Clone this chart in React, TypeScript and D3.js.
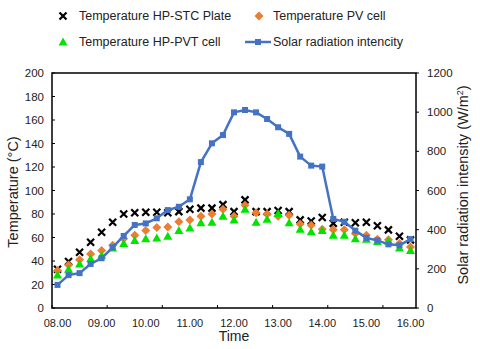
import React from 'react';
import * as d3 from 'd3';

// 15-minute readings from 08.00 to 16.00
const times = [
  '08.00', '08.15', '08.30', '08.45', '09.00', '09.15', '09.30', '09.45',
  '10.00', '10.15', '10.30', '10.45', '11.00', '11.15', '11.30', '11.45',
  '12.00', '12.15', '12.30', '12.45', '13.00', '13.15', '13.30', '13.45',
  '14.00', '14.15', '14.30', '14.45', '15.00', '15.15', '15.30', '15.45', '16.00',
];

// Temperatures (°C)
const tempSTC = [33, 39.5, 47.5, 56, 64.5, 73, 80, 81, 81.5, 81.5, 81, 82, 84, 85, 85, 88, 82, 92, 82, 82, 83, 82, 75, 74, 77, 72, 73, 72.5, 73, 70, 66.5, 61, 58];
const tempPV = [32, 36.5, 41, 46, 49, 53.5, 59, 62, 66, 68.5, 69, 73.5, 75, 78, 80, 84, 78, 87.5, 81, 80, 78, 79, 71.5, 70.5, 67, 66.5, 66.5, 63.5, 62, 58.5, 58, 55, 52];
const tempPVT = [28, 33, 37.5, 42, 45, 51, 55, 57.5, 59, 59.5, 61, 66, 68, 72.5, 73, 78, 75, 84, 73, 75.5, 80.5, 72.5, 67, 65, 66, 62, 62, 59, 58.5, 56.5, 57, 51, 49];

// Solar radiation (W/m²)
const solar = [118, 168, 178, 225, 254, 310, 368, 424, 432, 458, 500, 517, 555, 745, 841, 883, 999, 1011, 999, 965, 923, 889, 773, 727, 722, 455, 440, 395, 358, 345, 325, 320, 352];

const leftTicks = [0, 20, 40, 60, 80, 100, 120, 140, 160, 180, 200];
const rightTicks = [0, 200, 400, 600, 800, 1000, 1200];

const W = 480;
const H = 349;
const plot = { left: 52, right: 416, top: 73, bottom: 308 };
const FONT = '"Liberation Sans", Arial, sans-serif';
const TXT = '#222';

const BLUE = '#4472C4';
const ORANGE = '#ED7D31';
const GREEN = '#00E400';

const xMark = (x: number, y: number, k: string | number) => (
  <path key={k} d={`M${x - 3.5},${y - 3.5}L${x + 3.5},${y + 3.5}M${x + 3.5},${y - 3.5}L${x - 3.5},${y + 3.5}`}
    stroke="#000" strokeWidth={2.2} />
);
const diamond = (x: number, y: number, k: string | number) => (
  <path key={k} d={`M${x},${y - 4.5}L${x + 4.5},${y}L${x},${y + 4.5}L${x - 4.5},${y}Z`} fill={ORANGE} />
);
const triangle = (x: number, y: number, k: string | number) => (
  <path key={k} d={`M${x},${y - 4.5}L${x + 4.5},${y + 3.5}L${x - 4.5},${y + 3.5}Z`} fill={GREEN} />
);

export default function App() {
  const x = d3.scaleBand<string>().domain(times).range([plot.left, plot.right]);
  const cx = (t: string) => (x(t) as number) + x.bandwidth() / 2;
  const yL = d3.scaleLinear().domain([0, 200]).range([plot.bottom, plot.top]);
  const yR = d3.scaleLinear().domain([0, 1200]).range([plot.bottom, plot.top]);

  const solarLine = d3.line<number>()
    .x((_, i) => cx(times[i]))
    .y(d => yR(d));

  // tick marks every 5 categories, labels every 4 (Excel-style)
  const tickMarks = d3.range(0, times.length + 1, 5).map(i => plot.left + i * x.step());

  return (
    <svg width={W} height={H} style={{ position: 'absolute', left: 0, top: 0, fontFamily: FONT }}>
      <rect width={W} height={H} fill="#fff" />

      {/* legend */}
      <g fontSize={12.5} fill={TXT}>
        {xMark(63, 16, 'l1')}
        <text x={79} y={16} dy="0.35em">Temperature HP-STC Plate</text>
        {diamond(259, 16, 'l2')}
        <text x={273} y={16} dy="0.35em">Temperature PV cell</text>
        {triangle(63, 42, 'l3')}
        <text x={79} y={42} dy="0.35em">Temperature HP-PVT cell</text>
        <line x1={245} x2={271} y1={42} y2={42} stroke={BLUE} strokeWidth={2.5} />
        <rect x={255} y={39} width={6} height={6} fill={BLUE} />
        <text x={273} y={42} dy="0.35em">Solar radiation intencity</text>
      </g>

      {/* left axis */}
      <g fontSize={11.5} fill={TXT}>
        {leftTicks.map(t => (
          <g key={t}>
            <line x1={plot.left} x2={plot.left + 3} y1={yL(t)} y2={yL(t)} stroke="#000" />
            <text x={44} y={yL(t)} dy="0.35em" textAnchor="end">{t}</text>
          </g>
        ))}
      </g>

      {/* right axis */}
      <g fontSize={11.5} fill={TXT}>
        {rightTicks.map(t => (
          <g key={t}>
            <line x1={plot.right} x2={plot.right + 3} y1={yR(t)} y2={yR(t)} stroke="#000" />
            <text x={427} y={yR(t)} dy="0.35em">{t}</text>
          </g>
        ))}
      </g>

      {/* bottom axis */}
      <g fontSize={11} fill={TXT}>
        {tickMarks.map(v => (
          <line key={v} x1={v} x2={v} y1={plot.bottom} y2={plot.bottom - 3} stroke="#000" />
        ))}
        {times.map((t, i) => i % 4 === 0 ? (
          <text key={t} x={cx(t)} y={323} dy="0.35em" textAnchor="middle">{t}</text>
        ) : null)}
      </g>

      <g fill={TXT} fontSize={14.5}>
        <text x={(plot.left + plot.right) / 2} y={336} dy="0.35em" textAnchor="middle" fontSize={14}>Time</text>
        <text transform="translate(13,192) rotate(-90)" dy="0.35em" textAnchor="middle">Temperature (°C)</text>
        <text transform="translate(463,185) rotate(-90)" dy="0.35em" textAnchor="middle">
          Solar radiation intensity (W/m<tspan dy="-5" fontSize={9}>2</tspan><tspan dy="5">)</tspan>
        </text>
      </g>

      {/* series */}
      <g>{tempSTC.map((v, i) => xMark(cx(times[i]), yL(v), i))}</g>
      <g>{tempPV.map((v, i) => diamond(cx(times[i]), yL(v), i))}</g>
      <g>{tempPVT.map((v, i) => triangle(cx(times[i]), yL(v), i))}</g>
      <path d={solarLine(solar) ?? ''} fill="none" stroke={BLUE} strokeWidth={2.5} strokeLinejoin="round" />
      <g>
        {solar.map((v, i) => (
          <rect key={i} x={cx(times[i]) - 3} y={yR(v) - 3} width={6} height={6} fill={BLUE} />
        ))}
      </g>

      {/* frame */}
      <rect x={plot.left} y={plot.top} width={plot.right - plot.left} height={plot.bottom - plot.top}
        fill="none" stroke="#000" strokeWidth={1.5} />
    </svg>
  );
}
